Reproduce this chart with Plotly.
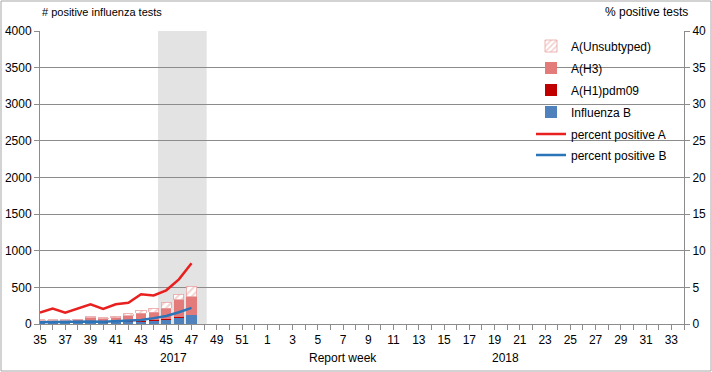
import plotly.graph_objects as go

weeks = [35, 36, 37, 38, 39, 40, 41, 42, 43, 44, 45, 46, 47, 48, 49, 50, 51, 52,
         1, 2, 3, 4, 5, 6, 7, 8, 9, 10, 11, 12, 13, 14, 15, 16, 17, 18, 19, 20,
         21, 22, 23, 24, 25, 26, 27, 28, 29, 30, 31, 32, 33, 34]
flu_b = [20, 20, 20, 22, 25, 22, 30, 35, 40, 45, 68, 90, 123]
a_h1 = [2, 2, 2, 2, 3, 2, 3, 3, 4, 4, 5, 5, 6]
a_h3 = [23, 23, 23, 32, 60, 48, 51, 72, 102, 114, 142, 234, 244]
a_unsub = [10, 10, 10, 12, 12, 10, 25, 30, 45, 55, 85, 80, 145]
pct_a = [1.55, 2.1, 1.55, 2.1, 2.7, 2.05, 2.7, 2.9, 4.05, 3.9, 4.6, 6.1, 8.3]
pct_b = [0.25, 0.3, 0.3, 0.35, 0.35, 0.3, 0.4, 0.45, 0.55, 0.8, 1.1, 1.6, 2.2]
shade_weeks = (9.35, 13.2)  # index span of highlighted period

idx = list(range(len(weeks)))
n = len(flu_b)
ticktext = [str(w) if i % 2 == 0 else "" for i, w in enumerate(weeks)]

FONT = "Liberation Sans, Arial, sans-serif"
fig = go.Figure()

fig.add_bar(x=idx[:n], y=flu_b, name="Influenza B", marker_color="#4f81bd",
            marker_line_width=0, legend="legend4")
fig.add_bar(x=idx[:n], y=a_h1, name="A(H1)pdm09", marker_color="#c00000",
            marker_line_width=0, legend="legend3")
fig.add_bar(x=idx[:n], y=a_h3, name="A(H3)", marker_color="#e37b7b",
            marker_line_width=0, legend="legend2")
fig.add_bar(x=idx[:n], y=a_unsub, name="A(Unsubtyped)",
            marker=dict(color="white", line=dict(width=0.8, color="#e8a3a3"),
                        pattern=dict(shape="/", fgcolor="#e8a3a3", bgcolor="white",
                                     size=5, solidity=0.4)),
            legend="legend")
fig.add_scatter(x=idx[:n], y=pct_a, name="percent positive A", mode="lines",
                line=dict(color="#e8201f", width=2.5), yaxis="y2", legend="legend5")
fig.add_scatter(x=idx[:n], y=pct_b, name="percent positive B", mode="lines",
                line=dict(color="#2b74b8", width=2.5), yaxis="y2", legend="legend6")

fig.add_shape(type="rect", xref="x", yref="paper", x0=shade_weeks[0], x1=shade_weeks[1],
              y0=0, y1=1, fillcolor="#e3e3e3", line_width=0, layer="below")
# outer chart border
fig.add_shape(type="rect", xref="paper", yref="paper",
              x0=(1 - 40) / 644, x1=(711 - 40) / 644,
              y0=(324 - 371) / 293, y1=(324 - 1) / 293,
              line=dict(color="#a6a6a6", width=1), fillcolor="rgba(0,0,0,0)")

legend_y = [46, 68, 90, 112, 134, 155]
legend_names = ["legend", "legend2", "legend3", "legend4", "legend5", "legend6"]
legends = {}
for name, yc in zip(legend_names, legend_y):
    legends[name] = dict(x=(531 - 40) / 644, y=(324 - yc) / 293, xanchor="left",
                         yanchor="middle", bgcolor="rgba(0,0,0,0)",
                         font=dict(size=12), itemwidth=30, borderwidth=0)

fig.update_layout(
    width=712, height=372,
    margin=dict(l=40, r=28, t=31, b=48, autoexpand=False),
    barmode="stack", bargap=0.2,
    plot_bgcolor="white", paper_bgcolor="white",
    font=dict(family=FONT, size=12, color="#000"),
    showlegend=True,
    xaxis=dict(range=[0, len(weeks) - 1], tickmode="array", tickvals=idx,
               ticktext=ticktext, ticks="outside", ticklen=5, tickcolor="#8c8c8c",
               showline=True, linecolor="#8c8c8c", showgrid=False, zeroline=False,
               tickfont=dict(size=12), tickangle=0, automargin=False),
    yaxis=dict(range=[0, 4000], dtick=500, ticks="outside", ticklen=5,
               tickcolor="#8c8c8c", showline=True, linecolor="#8c8c8c",
               showgrid=True, gridcolor="#8c8c8c", gridwidth=1, zeroline=False,
               tickfont=dict(size=12), automargin=False),
    yaxis2=dict(range=[0, 40], dtick=5, overlaying="y", side="right",
                ticks="outside", ticklen=5, tickcolor="#8c8c8c", showline=True,
                linecolor="#8c8c8c", showgrid=False, zeroline=False,
                tickfont=dict(size=12), automargin=False),
    **legends,
)

ann = [
    ("# positive influenza tests", 0.0, (324 - 12) / 293, "left", 11),
    ("% positive tests", (690 - 40) / 644, (324 - 12) / 293, "right", 12),
    ("Report week", (343 - 40) / 644, (324 - 358) / 293, "center", 12),
    ("2017", (173 - 40) / 644, (324 - 358) / 293, "center", 12),
    ("2018", (505 - 40) / 644, (324 - 358) / 293, "center", 12),
]
for text, x, y, xa, fs in ann:
    fig.add_annotation(text=text, xref="paper", yref="paper", x=x, y=y,
                       xanchor=xa, yanchor="middle", showarrow=False,
                       font=dict(size=fs, family=FONT))

fig.write_html("out.html")
